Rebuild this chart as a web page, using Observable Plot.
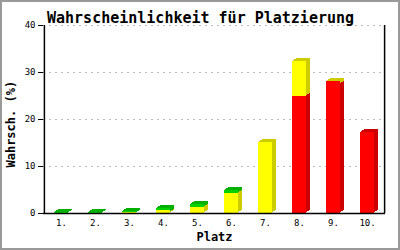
<!DOCTYPE html>
<html><head><meta charset="utf-8">
<script src="https://cdn.jsdelivr.net/npm/d3@7"></script>
<script src="https://cdn.jsdelivr.net/npm/@observablehq/plot@0.6"></script>
<style>
body{margin:0;background:#fff}
#wrap{position:relative;width:400px;height:250px;overflow:hidden}
#wrap:after{content:"";position:absolute;left:0;top:0;width:400px;height:250px;box-sizing:border-box;border:2px solid #999;pointer-events:none}
</style></head>
<body><div id="wrap"></div>
<script>
const title = "Wahrscheinlichkeit für Platzierung";
const xTitle = "Platz";
const yTitle = "Wahrsch. (%)";
const places = ["1.","2.","3.","4.","5.","6.","7.","8.","9.","10."];
const red    = [0,   0,   0,    0,   0,   0,   0,    25.0, 28.0, 17.3];
const yellow = [0,   0,   0.15, 0.6, 1.3, 4.3, 15.2, 7.3,  0.15, 0];
const green  = [0.12,0.12,0.35, 0.4, 0.6, 0.6, 0,    0,    0,    0];
const yTicks = [0,10,20,30,40];
const seriesNames = ["rot","gelb","grün"];
const frontColors = ["#ff0000","#ffff00","#00d000"];
const sideColors  = ["#cc0000","#cccc00","#00b000"];

const seriesVals = [red, yellow, green];
const table = places.flatMap((p,i) => seriesVals.map((arr,s) => ({place:p, series:seriesNames[s], s, value:arr[i]})));
const tops = places.map((p,i) => {
  let total = 0, top = 0;
  seriesVals.forEach((arr,s) => { total += arr[i]; if (arr[i] > 0) top = s; });
  return {place:p, total, s:top};
});

const inset = 9.6;
const depth = [[4,-3],[3,-2],[2,-2],[1,-1]];
const backMarks = [];
seriesNames.forEach((name, s) => {
  depth.forEach(([dx,dy]) => {
    backMarks.push(Plot.barY(table, {
      x:"place", y:"value", z:"series",
      fill:d=>sideColors[d.s], fillOpacity:d=>d.s===s?1:0,
      insetLeft:inset, insetRight:inset, dx, dy, shapeRendering:"crispEdges"
    }));
  });
});
// top face in the colour of the top segment
const topMarks = depth.map(([dx,dy]) => Plot.barY(tops, {
  x:"place", y1:d=>Math.max(0, d.total-0.7), y2:"total",
  fill:d=>sideColors[d.s],
  insetLeft:inset, insetRight:inset, dx, dy, shapeRendering:"crispEdges"
}));
const front = Plot.barY(table, {
  x:"place", y:"value", z:"series", fill:d=>frontColors[d.s],
  insetLeft:inset, insetRight:inset, shapeRendering:"crispEdges"
});

const chart = Plot.plot({
  width:400, height:250,
  marginLeft:43, marginRight:15, marginTop:25, marginBottom:37,
  style:{fontFamily:"'DejaVu Sans Mono', monospace", fontSize:"9px", background:"transparent"},
  x:{type:"band", domain:places, padding:0, tickSize:0, tickPadding:6, label:null},
  y:{domain:[0,40], ticks:yTicks, tickSize:5, tickPadding:3, label:null},
  color:{type:"identity"},
  opacity:{type:"identity"},
  marks:[
    Plot.ruleY(yTicks.slice(1), {stroke:"#bbb", strokeDasharray:"2,4", shapeRendering:"crispEdges"}),
    ...backMarks,
    ...topMarks,
    front,
    Plot.ruleX([places[0]], {y1:0, y2:40, dx:-17.1, stroke:"#000", strokeWidth:1.5}),
    Plot.ruleX([places[places.length-1]], {y1:0, y2:40, dx:17.1, stroke:"#000", strokeWidth:1.5}),
    Plot.ruleY([0], {stroke:"#000", strokeWidth:1.5}),
    Plot.text([title], {frameAnchor:"top", dx:-14, dy:-13, fontSize:15, fontWeight:"bold", fill:"#000", text:d=>d}),
    Plot.text([xTitle], {frameAnchor:"bottom", dy:27, fontSize:12, fontWeight:"bold", fill:"#000", text:d=>d}),
    Plot.text([yTitle], {frameAnchor:"left", y:[19], dx:-32, rotate:-90, textAnchor:"middle", fontSize:12, fontWeight:"bold", fill:"#000", text:d=>d})
  ]
});
document.getElementById("wrap").appendChild(chart);
</script></body></html>
